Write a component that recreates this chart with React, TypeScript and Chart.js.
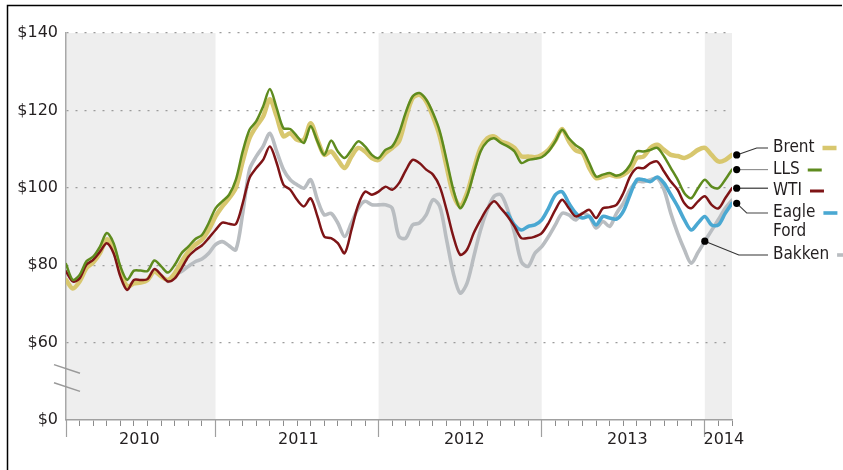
import React, { useEffect, useRef } from "react";
import { Chart, registerables } from "chart.js";

Chart.register(...registerables);

const FONT = '"DejaVu Sans", sans-serif';
const FONT_STRETCH = "condensed";

// x axis: months since Jan 2010 (1 = Feb 2010, 50 = Mar 2014), data sampled every half month
const X_MIN = 1;
const X_MAX = 50;
const STEP = 0.5;

const Y_MIN = 40;
const Y_MAX = 140;
const Y_TICKS = [40, 60, 80, 100, 120, 140];
const Y_TICK_LABELS = ["$0", "$60", "$80", "$100", "$120", "$140"];

const YEAR_LABELS = ["2010", "2011", "2012", "2013", "2014"];
const YEAR_LABEL_POS = [6.4, 18.1, 30.3, 42.3, 49.4];
const YEAR_BOUNDARIES = [1, 12, 24, 36, 48];
const MONTH_TICKS = [1, 2, 3, 4, 5, 6, 7, 8, 9, 10, 11, 12, 13, 14, 15, 16, 17, 18, 19, 20, 21, 22, 23, 24, 25, 26, 27, 28, 29, 30, 31, 32, 33, 34, 35, 36, 37, 38, 39, 40, 41, 42, 43, 44, 45, 46, 47, 48, 49, 50];
const SHADED_YEARS = [[1, 12], [24, 36], [48, 50]];

const BRENT_START = 1;
const brent = [
  76.2, 74, 75.8, 79.2, 80.7, 83.1, 86.7, 84.4, 78.4, 74.5,
  75.3, 75.5, 76.2, 78.4, 77.1, 76.2, 77.9, 80.9, 83.5, 85.3,
  86.6, 89.1, 92.6, 95.2, 97.3, 100, 106.8, 112.8, 115.9, 118.4,
  122.9, 118.4, 113.3, 114.1, 112.4, 112.4, 116.7, 112.4, 108.5, 109.4,
  107.2, 105.1, 108.1, 110.3, 109.4, 107.7, 107.2, 109, 110.3, 112,
  118, 123.2, 124, 122.3, 118.4, 113.3, 105.5, 98.2, 95.3, 98.6,
  104.7, 110.3, 112.8, 113.3, 112, 111.4, 110.3, 108.1, 108.1, 107.9,
  108.5, 109.8, 112.2, 115.2, 112, 109.7, 109, 105.1, 102.5, 102.9,
  103.4, 102.9, 103.4, 104.7, 107.7, 108.1, 110.3, 111.1, 109.8, 108.5,
  108.2, 107.7, 108.5, 109.8, 110.3, 108.5, 106.8, 107.2, 108.5,
];

const LLS_START = 1;
const lls = [
  80.3, 76.2, 77.5, 81, 82.2, 84.8, 88.3, 85.7, 79.7, 76.2,
  78.6, 78.6, 78.5, 81.2, 79.7, 78.1, 80.1, 83.1, 84.8, 86.7,
  87.8, 90.9, 94.7, 96.5, 98.2, 102.1, 109.4, 115, 117.2, 121,
  125.5, 120.6, 115.4, 115.2, 113.3, 111.6, 115.9, 112, 108.5, 112.2,
  109.4, 107.7, 109.8, 112, 110.7, 108.5, 107.7, 109.8, 110.7, 114.1,
  119.5, 123.6, 124.5, 122.8, 119.3, 114.6, 107.2, 99.5, 94.7, 97.8,
  103.8, 109.4, 112, 112.8, 111.6, 110.7, 109.4, 106.4, 107.2, 107.5,
  107.9, 109.4, 112, 115, 112.8, 111, 109.8, 106.4, 102.9, 103.4,
  103.8, 103.1, 103.8, 105.9, 109.4, 109.4, 109.8, 110.3, 108.1, 105.1,
  102.1, 98.6, 97.3, 99.9, 102.1, 100.3, 99.9, 102.1, 104.7,
];

const WTI_START = 1;
const wti = [
  78.4, 75.8, 76.6, 80.1, 81.4, 83.5, 85.7, 83.1, 77.1, 73.6,
  76.2, 76.2, 76.4, 79, 77.5, 75.8, 76.6, 79.2, 82.2, 83.9,
  85.1, 87, 89.1, 91, 90.7, 90.6, 96, 102.5, 105.1, 107.2,
  110.7, 106.4, 100.8, 99.5, 96.9, 95.2, 97.3, 92.6, 87.4, 87,
  85.7, 83.1, 89.1, 95.6, 99, 98.2, 99, 100.3, 99.5, 101.2,
  104.5, 107.2, 106.4, 104.7, 103.4, 100.3, 94.3, 87.4, 82.7, 84,
  88.3, 91.7, 94.7, 96.5, 94.7, 92.6, 90, 87, 87, 87.4,
  88.3, 90.9, 94.3, 96.9, 94.7, 92.6, 93.4, 94.3, 92.2, 94.7,
  95, 95.6, 98.6, 102.9, 105.1, 105.1, 106.4, 106.8, 104.2, 101.6,
  99.5, 96, 94.7, 96.5, 97.8, 95.6, 94.7, 97.3, 99.9,
];

const EAGLE_START = 33.5;
const eagleFord = [
  93.4, 90.4, 89.1, 90, 90.4, 91.7, 94.7, 98.2, 99, 96,
  93.5, 92.2, 92.6, 90.4, 92.6, 92.2, 91.9, 93.9, 98.2, 102.1,
  102.1, 101.6, 102.8, 101.2, 98.2, 95.2, 91.7, 89.1, 90.9, 92.6,
  90.4, 90.4, 93.4, 96,
];

const BAKKEN_START = 8.5;
const bakken = [
  75.8, 77.5, 78.4, 79.7, 80.9, 81.6, 83.1, 85.3, 86.1, 85,
  84, 93.4, 104.7, 108.1, 110.7, 114.1, 109.4, 104.7, 102.1, 100.8,
  99.9, 102.1, 96.9, 93, 93.4, 90.9, 87.4, 90.9, 94.7, 96.5,
  95.6, 95.6, 95.6, 94.7, 87.4, 87, 90.4, 90.9, 93, 96.9,
  95.2, 86.6, 77.9, 72.8, 75.3, 82.2, 89.1, 94.3, 97.8, 98.2,
  94.3, 88.3, 80.9, 79.7, 83.1, 84.8, 87.4, 90.4, 93.4, 93,
  91.7, 93.4, 92.6, 89.6, 91.3, 90, 93.4, 96, 99.5, 101.6,
  101.6, 102.1, 102.5, 99.5, 93.4, 88.3, 84, 80.5, 83.3, 86.2,
  89, 91.8, 94.7, 96.8,
];

const SERIES = [
  { name: "LLS", start: LLS_START, values: lls, color: "#5E8B1E", width: 2.5, order: 1 },
  { name: "WTI", start: WTI_START, values: wti, color: "#7E1416", width: 2.5, order: 2 },
  { name: "Eagle Ford", start: EAGLE_START, values: eagleFord, color: "#4AA8D2", width: 3.6, order: 3 },
  { name: "Brent", start: BRENT_START, values: brent, color: "#D8C76E", width: 4.5, order: 4 },
  { name: "Bakken", start: BAKKEN_START, values: bakken, color: "#B9BDC1", width: 3.6, order: 5 },
];

// right-hand labels
const LABEL_X = 773;
const LABELS = [
  { series: "Brent", lines: ["Brent"], textY: 148, elbowDx: 20, leader: "#333333", anchor: -1 },
  { series: "LLS", lines: ["LLS"], textY: 170, elbowDx: null, leader: "#8a8a8a", anchor: -1 },
  { series: "WTI", lines: ["WTI"], textY: 191, elbowDx: null, leader: "#222222", anchor: -1 },
  { series: "Eagle Ford", lines: ["Eagle", "Ford"], textY: 213, elbowDx: 10, leader: "#444444", anchor: -1 },
  { series: "Bakken", lines: ["Bakken"], textY: 255, elbowDx: 34, leader: "#333333", anchor: 79 },
];

const toPoints = (start: number, values: number[]) =>
  values.map((v, i) => ({ x: start + i * STEP, y: v }));

const decorPlugin = {
  id: "decor",
  beforeDraw(chart: any) {
    const { ctx, chartArea: a, scales } = chart;
    const x = scales.x;
    ctx.save();
    ctx.fillStyle = "#EEEEEE";
    for (const [s, e] of SHADED_YEARS) {
      const x1 = x.getPixelForValue(s);
      const x2 = x.getPixelForValue(e);
      ctx.fillRect(x1, a.top, x2 - x1, a.bottom - a.top);
    }
    ctx.restore();
  },
  afterDraw(chart: any) {
    const { ctx, chartArea: a, scales } = chart;
    const y = scales.y;
    ctx.save();

    // frame
    ctx.strokeStyle = "#000";
    ctx.lineWidth = 1.5;
    ctx.beginPath();
    ctx.moveTo(7.5, 470);
    ctx.lineTo(7.5, 5.5);
    ctx.lineTo(842, 5.5);
    ctx.stroke();

    // axis break marks
    ctx.strokeStyle = "#999";
    ctx.lineWidth = 1.5;
    for (const v of [53.2, 48.5]) {
      const py = y.getPixelForValue(v);
      ctx.beginPath();
      ctx.moveTo(a.left - 12, py - 4.3);
      ctx.lineTo(a.left + 14, py + 4.3);
      ctx.stroke();
    }

    // labels
    ctx.font = `${FONT_STRETCH} 17px ${FONT}`;
    ctx.textBaseline = "middle";
    ctx.textAlign = "left";
    for (const lab of LABELS) {
      const idx = SERIES.findIndex((s) => s.name === lab.series);
      const s = SERIES[idx];
      const meta = chart.getDatasetMeta(idx);
      const pts = meta.data;
      const p = lab.anchor >= 0 ? pts[lab.anchor] : pts[pts.length - 1];
      const dx = lab.anchor >= 0 ? 0 : 4.7;
      const dotX = p.x + dx;
      const dotY = p.y;
      // leader
      ctx.strokeStyle = lab.leader;
      ctx.lineWidth = 1.1;
      ctx.beginPath();
      ctx.moveTo(dotX, dotY);
      if (lab.elbowDx === null) {
        ctx.lineTo(LABEL_X - 5, dotY);
      } else {
        ctx.lineTo(dotX + lab.elbowDx, lab.textY);
        ctx.lineTo(LABEL_X - 5, lab.textY);
      }
      ctx.stroke();
      // dot
      ctx.fillStyle = "#000";
      ctx.beginPath();
      ctx.arc(dotX, dotY, 3.6, 0, Math.PI * 2);
      ctx.fill();
      // text
      ctx.fillStyle = "#231F20";
      lab.lines.forEach((t, i) => ctx.fillText(t, LABEL_X, lab.textY + i * 19));
      // legend dash
      const w = ctx.measureText(lab.lines[0]).width;
      ctx.strokeStyle = s.color;
      ctx.lineWidth = Math.max(3, s.width);
      ctx.beginPath();
      ctx.moveTo(LABEL_X + w + 8, lab.textY);
      ctx.lineTo(LABEL_X + w + 22, lab.textY);
      ctx.stroke();
    }
    ctx.restore();
  },
};

export default function App() {
  const ref = useRef<HTMLCanvasElement | null>(null);

  useEffect(() => {
    if (!ref.current) return;
    const chart = new Chart(ref.current, {
      type: "line",
      data: {
        datasets: SERIES.map((s) => ({
          label: s.name,
          data: toPoints(s.start, s.values),
          borderColor: s.color,
          backgroundColor: s.color,
          borderWidth: s.width,
          pointRadius: 0,
          tension: 0.3,
          fill: false,
          order: s.order,
          borderCapStyle: "round",
          borderJoinStyle: "round",
        })),
      },
      options: {
        responsive: false,
        animation: false,
        devicePixelRatio: 1,
        events: [],
        layout: { padding: { left: 0, right: 111, top: 33, bottom: 0 } },
        plugins: {
          legend: { display: false },
          tooltip: { enabled: false },
          title: { display: false },
        },
        scales: {
          y: {
            type: "linear",
            min: Y_MIN,
            max: Y_MAX,
            afterBuildTicks: (s: any) => {
              s.ticks = Y_TICKS.map((v) => ({ value: v }));
            },
            afterFit: (s: any) => {
              s.width = 66;
            },
            ticks: {
              callback: (_v: any, i: number) => Y_TICK_LABELS[i],
              color: "#231F20",
              font: { family: FONT, size: 16, style: FONT_STRETCH },
              padding: 8,
            },
            grid: {
              color: (c: any) => (c.tick && c.tick.value === Y_MIN ? "rgba(0,0,0,0)" : "#9b9b9b"),
              lineWidth: 1.3,
              drawTicks: false,
            },
            border: { display: true, color: "#a8a8a8", width: 1.5, dash: [2, 7] },
          },
          x: {
            type: "linear",
            position: "bottom",
            weight: 0,
            min: X_MIN,
            max: X_MAX,
            afterBuildTicks: (s: any) => {
              s.ticks = MONTH_TICKS.map((v) => ({ value: v }));
            },
            afterFit: (s: any) => {
              s.height = 0;
            },
            ticks: { display: false },
            grid: {
              drawOnChartArea: false,
              drawTicks: true,
              tickLength: 6,
              tickColor: "#8c8c8c",
              tickWidth: 1,
              color: "#8c8c8c",
            },
            border: { display: true, color: "#a0a0a0", width: 1.5 },
          },
          xYear: {
            type: "linear",
            position: "bottom",
            weight: 1,
            min: X_MIN,
            max: X_MAX,
            afterBuildTicks: (s: any) => {
              s.ticks = YEAR_BOUNDARIES.map((v) => ({ value: v }));
            },
            afterFit: (s: any) => {
              s.height = 0;
            },
            ticks: { display: false },
            grid: {
              drawOnChartArea: false,
              drawTicks: true,
              tickLength: 17,
              tickColor: "#a0a0a0",
              tickWidth: 1.2,
              color: "#a0a0a0",
            },
            border: { display: false },
          },
          xLabel: {
            type: "linear",
            position: "bottom",
            weight: 2,
            min: X_MIN,
            max: X_MAX,
            afterBuildTicks: (s: any) => {
              s.ticks = YEAR_LABEL_POS.map((v) => ({ value: v }));
            },
            afterFit: (s: any) => {
              s.height = 50;
            },
            ticks: {
              callback: (_v: any, i: number) => YEAR_LABELS[i],
              autoSkip: false,
              maxRotation: 0,
              minRotation: 0,
              padding: 10,
              color: "#231F20",
              font: { family: FONT, size: 16, style: FONT_STRETCH },
            },
            grid: { display: false, drawTicks: false },
            border: { display: false },
          },
        },
      } as any,
      plugins: [decorPlugin],
    });
    return () => chart.destroy();
  }, []);

  return (
    <div style={{ position: "absolute", left: 0, top: 0, width: 843, height: 470, background: "#fff" }}>
      <canvas ref={ref} width={843} height={470} style={{ display: "block" }} />
    </div>
  );
}
